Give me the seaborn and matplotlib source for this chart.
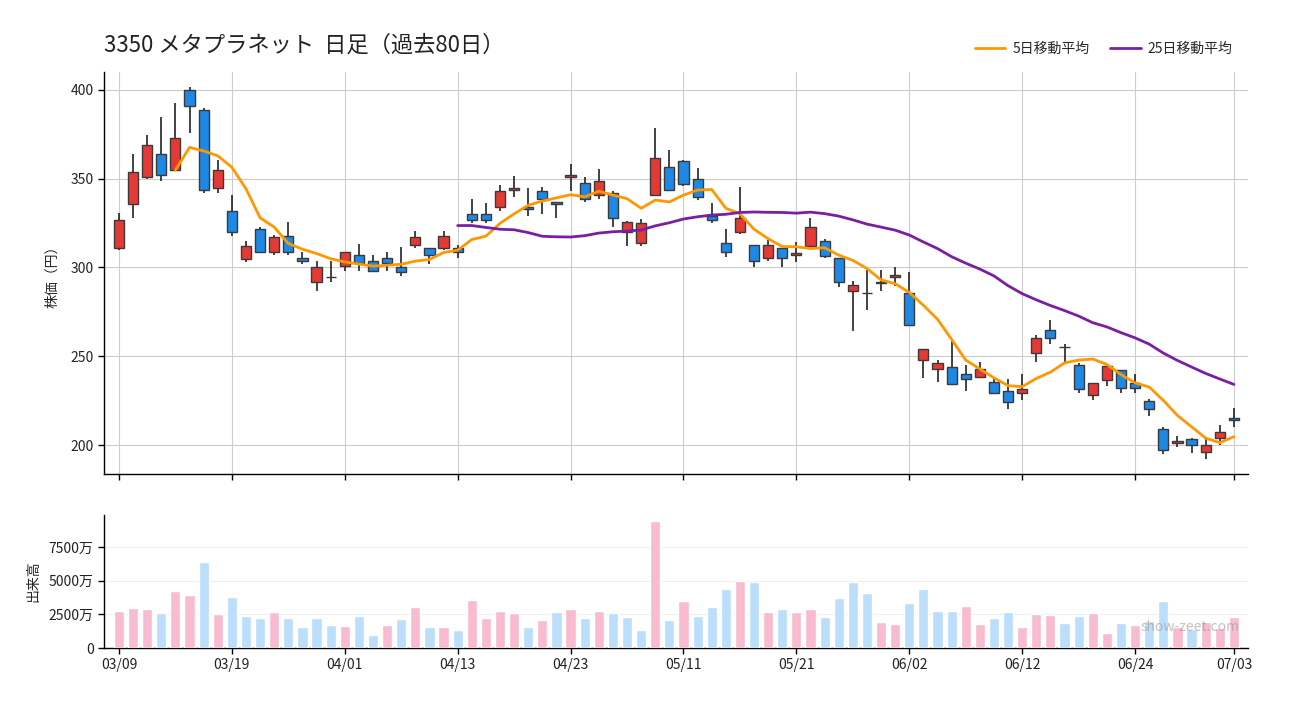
import numpy as np
import pandas as pd
import matplotlib
matplotlib.use("Agg")
import matplotlib.pyplot as plt
import seaborn as sns

# ---------------- data ----------------
holidays = ["2026-03-20", "2026-04-29", "2026-05-04", "2026-05-05", "2026-05-06"]
dates = pd.bdate_range("2026-03-09", "2026-07-03", freq="C", holidays=holidays)

opens = [311.0, 335.8, 350.9, 363.9, 354.9, 399.8, 388.6, 344.8, 331.8, 304.9,
         321.7, 308.5, 317.7, 305.1, 291.9, 294.4, 301.1, 307.3, 303.9, 305.1,
         300.0, 312.9, 311.2, 311.2, 311.2, 330.3, 330.3, 334.3, 343.8, 334.3,
         343.3, 337.1, 351.1, 347.8, 341.0, 342.1, 320.2, 314.0, 341.0, 356.7,
         360.1, 350.0, 329.2, 314.0, 320.2, 312.4, 305.1, 311.2, 307.3, 312.2,
         315.2, 305.1, 286.5, 285.4, 292.1, 294.4, 285.4, 247.8, 242.6, 243.8,
         239.8, 238.1, 235.7, 230.6, 229.4, 251.7, 264.7, 255.3, 244.9, 228.0,
         236.9, 242.0, 234.7, 224.6, 209.0, 201.1, 203.4, 196.1, 203.9, 215.1]
highs = [330.9, 364.0, 374.7, 384.8, 392.7, 401.9, 389.9, 360.7, 341.0, 315.2,
         323.0, 318.3, 325.6, 309.0, 303.4, 303.4, 308.5, 313.1, 307.3, 308.5,
         311.6, 320.6, 311.2, 320.6, 312.5, 338.4, 336.3, 346.6, 351.5, 344.9,
         345.1, 337.1, 358.1, 351.1, 355.2, 343.3, 326.2, 327.2, 378.3, 365.9,
         360.7, 356.2, 336.1, 321.5, 345.1, 312.4, 315.5, 311.2, 314.1, 328.1,
         316.3, 305.1, 292.3, 298.7, 298.7, 300.2, 297.6, 254.2, 247.7, 258.5,
         244.9, 246.6, 238.5, 237.0, 239.8, 261.9, 270.2, 256.8, 246.3, 234.7,
         244.8, 242.5, 240.1, 225.7, 210.1, 205.0, 203.9, 203.4, 211.2, 220.7]
lows = [309.7, 327.7, 349.6, 348.5, 354.5, 375.7, 341.8, 341.8, 317.6, 303.0,
        308.5, 307.1, 307.1, 301.9, 286.9, 291.9, 298.1, 298.1, 298.0, 298.1,
        295.3, 311.0, 302.1, 309.7, 305.1, 324.9, 324.9, 331.6, 339.5, 329.0,
        330.1, 327.9, 343.1, 336.9, 338.4, 322.8, 312.2, 312.2, 341.0, 343.8,
        345.9, 338.0, 325.1, 306.0, 318.9, 300.0, 303.7, 300.0, 303.3, 312.2,
        305.1, 289.1, 264.2, 276.2, 286.5, 289.3, 267.4, 238.0, 235.7, 234.5,
        230.6, 238.1, 229.1, 220.2, 225.5, 246.6, 256.8, 246.6, 229.1, 225.4,
        233.4, 229.1, 229.1, 216.2, 195.0, 198.9, 195.5, 192.2, 200.0, 210.1]
closes = [326.8, 353.7, 368.9, 352.1, 372.8, 390.8, 343.6, 355.1, 320.0, 312.2,
          309.0, 317.4, 309.0, 303.9, 300.0, 294.4, 308.5, 302.8, 298.3, 302.3,
          297.2, 317.4, 307.3, 318.0, 309.0, 327.0, 327.0, 343.3, 344.9, 333.1,
          338.8, 336.0, 352.2, 338.8, 348.9, 328.1, 325.7, 325.3, 361.8, 343.8,
          347.2, 339.9, 327.0, 309.0, 328.1, 303.9, 312.9, 305.1, 308.4, 323.0,
          306.2, 292.1, 290.4, 285.4, 291.0, 295.5, 267.4, 254.2, 246.0, 234.5,
          237.0, 242.6, 229.1, 224.0, 231.7, 260.2, 260.2, 255.3, 231.8, 234.7,
          244.8, 231.9, 231.9, 220.1, 197.2, 202.2, 200.0, 200.0, 207.3, 214.0]
volumes = [2715, 2937, 2863, 2567, 4196, 3899, 6417, 2493, 3751, 2345,
           2197, 2641, 2197, 1530, 2197, 1678, 1604, 2345, 938, 1678,
           2122, 3011, 1530, 1530, 1308, 3529, 2197, 2715, 2567, 1530,
           2048, 2641, 2863, 2197, 2715, 2567, 2271, 1308, 9452, 2048,
           3455, 2345, 3011, 4344, 4936, 4862, 2641, 2863, 2641, 2863,
           2271, 3677, 4862, 4048, 1900, 1752, 3307, 4344, 2715, 2715,
           3085, 1752, 2197, 2641, 1530, 2493, 2419, 1826, 2345, 2567,
           1086, 1826, 1678, 1974, 3455, 1530, 1382, 1900, 1456, 2271]  # 万株

title = "3350 メタプラネット  日足（過去80日）"
ma_labels = ["5日移動平均", "25日移動平均"]
price_ticks = [200, 250, 300, 350, 400]
vol_ticks = [0, 2500, 5000, 7500]
vol_tick_labels = ["0", "2500万", "5000万", "7500万"]

# ---------------- frame ----------------
n = len(closes)
df = pd.DataFrame({"idx": np.arange(n), "open": opens, "high": highs,
                   "low": lows, "close": closes, "vol": volumes})
df["ma5"] = df["close"].rolling(5).mean()
df["ma25"] = df["close"].rolling(25).mean()
df["body_up"] = df["close"] >= df["open"]
prev = df["close"].shift(1).fillna(df["close"])
df["vol_dir"] = np.where(df["close"] >= prev, "up", "down")

if len(dates) == n:
    date_lbl = [d.strftime("%m/%d") for d in dates]
else:
    date_lbl = [str(i) for i in range(n)]
tick_idx = list(range(0, n, 8)) + [n - 1]

# ---------------- style ----------------
sns.set_theme(style="white")
plt.rcParams["font.family"] = ["Noto Sans CJK JP", "DejaVu Sans"]
plt.rcParams["axes.unicode_minus"] = False

RED, BLUE = "#e53935", "#1e88e5"
PINK, LBLUE = "#f8bbd0", "#bbdefb"
ORANGE, PURPLE = "#ff9800", "#7b1fa2"

W, H = 1300, 720
fig = plt.figure(figsize=(13, 7.2), dpi=100)
ax1 = fig.add_axes([104 / W, 1 - 474 / H, 1144 / W, (474 - 72) / H])
ax2 = fig.add_axes([104 / W, 1 - 648 / H, 1144 / W, (648 - 515) / H])

# ---------------- price panel ----------------
ax1.vlines(df["idx"], df["low"], df["high"], color="#222222", lw=1.2, zorder=2)
body_bottom = np.minimum(df["open"], df["close"])
body_h = (df["close"] - df["open"]).abs()
ax1.bar(df["idx"], body_h, bottom=body_bottom, width=0.72,
        color=np.where(df["body_up"], RED, BLUE),
        edgecolor="#3a3a3a", linewidth=1.0, zorder=3)

d5 = df.dropna(subset=["ma5"])
d25 = df.dropna(subset=["ma25"])
sns.lineplot(data=d5, x="idx", y="ma5", color=ORANGE, lw=2, ax=ax1,
             label=ma_labels[0], zorder=4)
sns.lineplot(data=d25, x="idx", y="ma25", color=PURPLE, lw=2, ax=ax1,
             label=ma_labels[1], zorder=4)

ax1.set_xlim(-1.06, 80)
ax1.set_ylim(183.7, 410.1)
ax1.set_yticks(price_ticks)
ax1.set_xticks(tick_idx)
ax1.set_xticklabels([])
ax1.grid(True, color="#cccccc", lw=0.8)
ax1.set_axisbelow(True)
ax1.set_xlabel("")
ax1.set_ylabel("株価（円）", fontsize=10, labelpad=8)
sns.despine(ax=ax1)
for s in ("left", "bottom"):
    ax1.spines[s].set_color("black")
    ax1.spines[s].set_linewidth(1)
ax1.tick_params(axis="both", which="both", bottom=True, left=True, length=4,
                width=1, color="black", labelsize=10, labelcolor="#222222")

handles, labels = ax1.get_legend_handles_labels()
ax1.get_legend().remove()
fig.legend(handles, labels, loc="center right", ncol=2, frameon=False,
           bbox_to_anchor=(1245 / W, 1 - 49 / H), fontsize=10,
           handlelength=2.2, columnspacing=1.5, handletextpad=0.5)

fig.text(104 / W, 1 - 45 / H, title, fontsize=16, va="center", ha="left",
         color="#222222")

# ---------------- volume panel ----------------
sns.barplot(data=df, x="idx", y="vol", hue="vol_dir",
            palette={"up": PINK, "down": LBLUE}, native_scale=True,
            dodge=False, width=0.72, saturation=1, errorbar=None,
            legend=False, ax=ax2, zorder=3)
ax2.set_xlim(-1.06, 80)
ax2.set_ylim(0, 9870)
ax2.set_yticks(vol_ticks)
ax2.set_yticklabels(vol_tick_labels)
ax2.set_xticks(tick_idx)
ax2.set_xticklabels([date_lbl[i] for i in tick_idx])
ax2.yaxis.grid(True, color="#eeeeee", lw=0.8)
ax2.xaxis.grid(False)
ax2.set_axisbelow(True)
ax2.set_xlabel("")
ax2.set_ylabel("出来高", fontsize=10, labelpad=6)
sns.despine(ax=ax2)
for s in ("left", "bottom"):
    ax2.spines[s].set_color("black")
    ax2.spines[s].set_linewidth(1)
ax2.tick_params(axis="both", bottom=True, left=True, length=4, width=1,
                color="black", labelsize=10, labelcolor="#222222")

ax2.text(0.993, 0.158, "show-zeet.com", transform=ax2.transAxes,
         ha="right", va="center", fontsize=10, color="#999999", alpha=0.6,
         zorder=5)

fig.savefig("out.png", dpi=100)
